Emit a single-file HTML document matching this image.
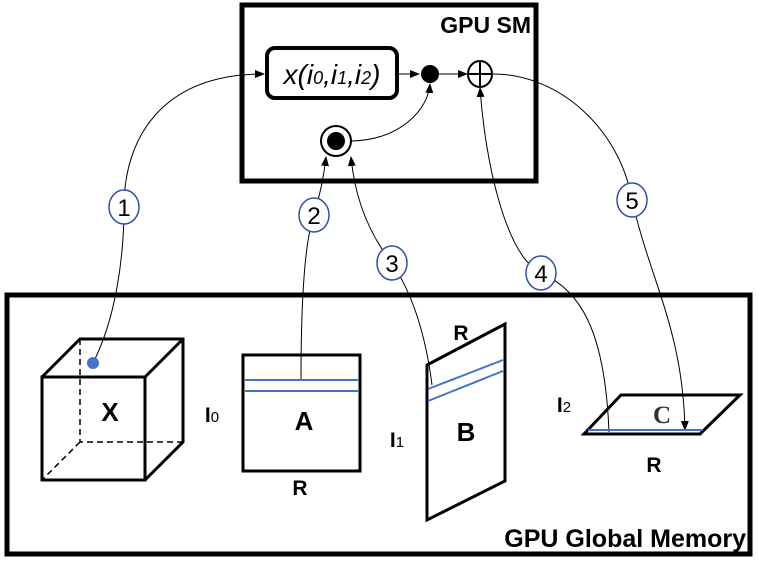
<!DOCTYPE html>
<html><head><style>body{margin:0;background:#fff}svg{display:block}</style></head>
<body>
<svg width="759" height="561" viewBox="0 0 759 561" xmlns="http://www.w3.org/2000/svg" font-family="Liberation Sans, sans-serif">
<defs><marker id="ar" markerWidth="10" markerHeight="10" refX="9" refY="5" orient="auto" markerUnits="userSpaceOnUse"><path d="M0,1 L10,5 L0,9 z" fill="#000"/></marker></defs>
<rect x="242" y="5" width="294" height="176" fill="none" stroke="#000" stroke-width="5"/>
<text x="531" y="33" text-anchor="end" font-weight="bold" font-size="23">GPU SM</text>
<rect x="7" y="295" width="743" height="259" fill="none" stroke="#000" stroke-width="5"/>
<text x="746" y="547" text-anchor="end" font-weight="bold" font-size="25">GPU Global Memory</text>
<rect x="267" y="48" width="130" height="50" rx="8" fill="none" stroke="#000" stroke-width="4"/>
<text x="332" y="84" text-anchor="middle" font-style="italic" font-size="28">x(i<tspan font-size="18">0</tspan>,i<tspan font-size="18">1</tspan>,i<tspan font-size="18">2</tspan>)</text>
<line x1="397" y1="74" x2="419" y2="74" stroke="#000" marker-end="url(#ar)"/>
<circle cx="430" cy="74" r="9" fill="#000"/>
<line x1="439" y1="74" x2="467" y2="74" stroke="#000" marker-end="url(#ar)"/>
<ellipse cx="480" cy="74" rx="12" ry="13" fill="#fff" stroke="#000" stroke-width="2"/>
<line x1="468" y1="74" x2="492" y2="74" stroke="#000" stroke-width="2"/><line x1="480" y1="61" x2="480" y2="87" stroke="#000" stroke-width="2"/>
<circle cx="336" cy="141" r="15" fill="#fff" stroke="#000" stroke-width="2"/><circle cx="336" cy="141" r="9" fill="#000"/>
<g fill="none" stroke="#000" stroke-width="1">
<path d="M93,363 C115,320 124,260 124,207 C124,140 160,74 264,74" marker-end="url(#ar)"/>
<path d="M351,141 C400,140 428,110 430,84" marker-end="url(#ar)"/>
<path d="M301,380 C301,300 305,240 314,215 C320,195 324,175 326,157" marker-end="url(#ar)"/>
<path d="M432,385 C425,330 410,290 392,263 C370,235 355,200 351,157" marker-end="url(#ar)"/>
<path d="M609,432 C605,330 580,290 541,273 C505,255 485,160 480,88" marker-end="url(#ar)"/>
<path d="M493,74 C560,74 620,130 632,200 C650,280 683,330 685,430" marker-end="url(#ar)"/>
</g>
<g fill="#fff" stroke="#2f4f9f" stroke-width="1.5">
<ellipse cx="124" cy="207" rx="15" ry="17"/><ellipse cx="314" cy="215" rx="15" ry="17"/><ellipse cx="392" cy="263" rx="15" ry="17"/><ellipse cx="541" cy="273" rx="15" ry="17"/><ellipse cx="632" cy="200" rx="15" ry="17"/>
</g>
<g font-size="24" text-anchor="middle"><text x="124" y="216">1</text><text x="314" y="224">2</text><text x="392" y="272">3</text><text x="541" y="282">4</text><text x="632" y="209">5</text></g>
<g fill="none" stroke="#000">
<path d="M80,339 L80,442 L183,442 M80,442 L42,480" stroke-dasharray="6,4" stroke-width="1.5"/>
<rect x="42" y="377" width="103" height="103" stroke-width="3"/>
<path d="M42,377 L80,339 L183,339 L183,442 L145,480 M145,377 L183,339" stroke-width="3"/>
<rect x="243" y="355" width="117" height="116" stroke-width="3"/>
<path d="M427,365 L505,324 L505,481 L427,520 Z" stroke-width="3"/>
<path d="M584,434 L621,395 L740,395 L700,434 Z" stroke-width="3"/>
</g>
<circle cx="93" cy="363" r="6" fill="#4472c4"/>
<g stroke="#4472c4" stroke-width="2">
<line x1="245" y1="380" x2="358" y2="380"/><line x1="245" y1="391" x2="358" y2="391"/>
<line x1="428" y1="389" x2="503" y2="360"/><line x1="428" y1="401" x2="503" y2="371"/>
<line x1="588" y1="430" x2="703" y2="430"/>
</g>
<g font-weight="bold" font-size="26" text-anchor="middle">
<text x="110" y="421">X</text><text x="304" y="430">A</text><text x="466" y="441">B</text>
<text x="300" y="495" font-size="21">R</text><text x="461" y="340" font-size="21">R</text><text x="654" y="472" font-size="21">R</text>
<text x="212" y="422" font-size="21">I<tspan font-size="15" font-weight="normal">0</tspan></text>
<text x="397" y="447" font-size="21">I<tspan font-size="15" font-weight="normal">1</tspan></text>
<text x="564" y="412" font-size="21">I<tspan font-size="15" font-weight="normal">2</tspan></text>
</g>
<text x="662" y="423" text-anchor="middle" font-family="Liberation Serif, serif" font-weight="bold" font-size="25" fill="#333">C</text>
</svg>
</body></html>
